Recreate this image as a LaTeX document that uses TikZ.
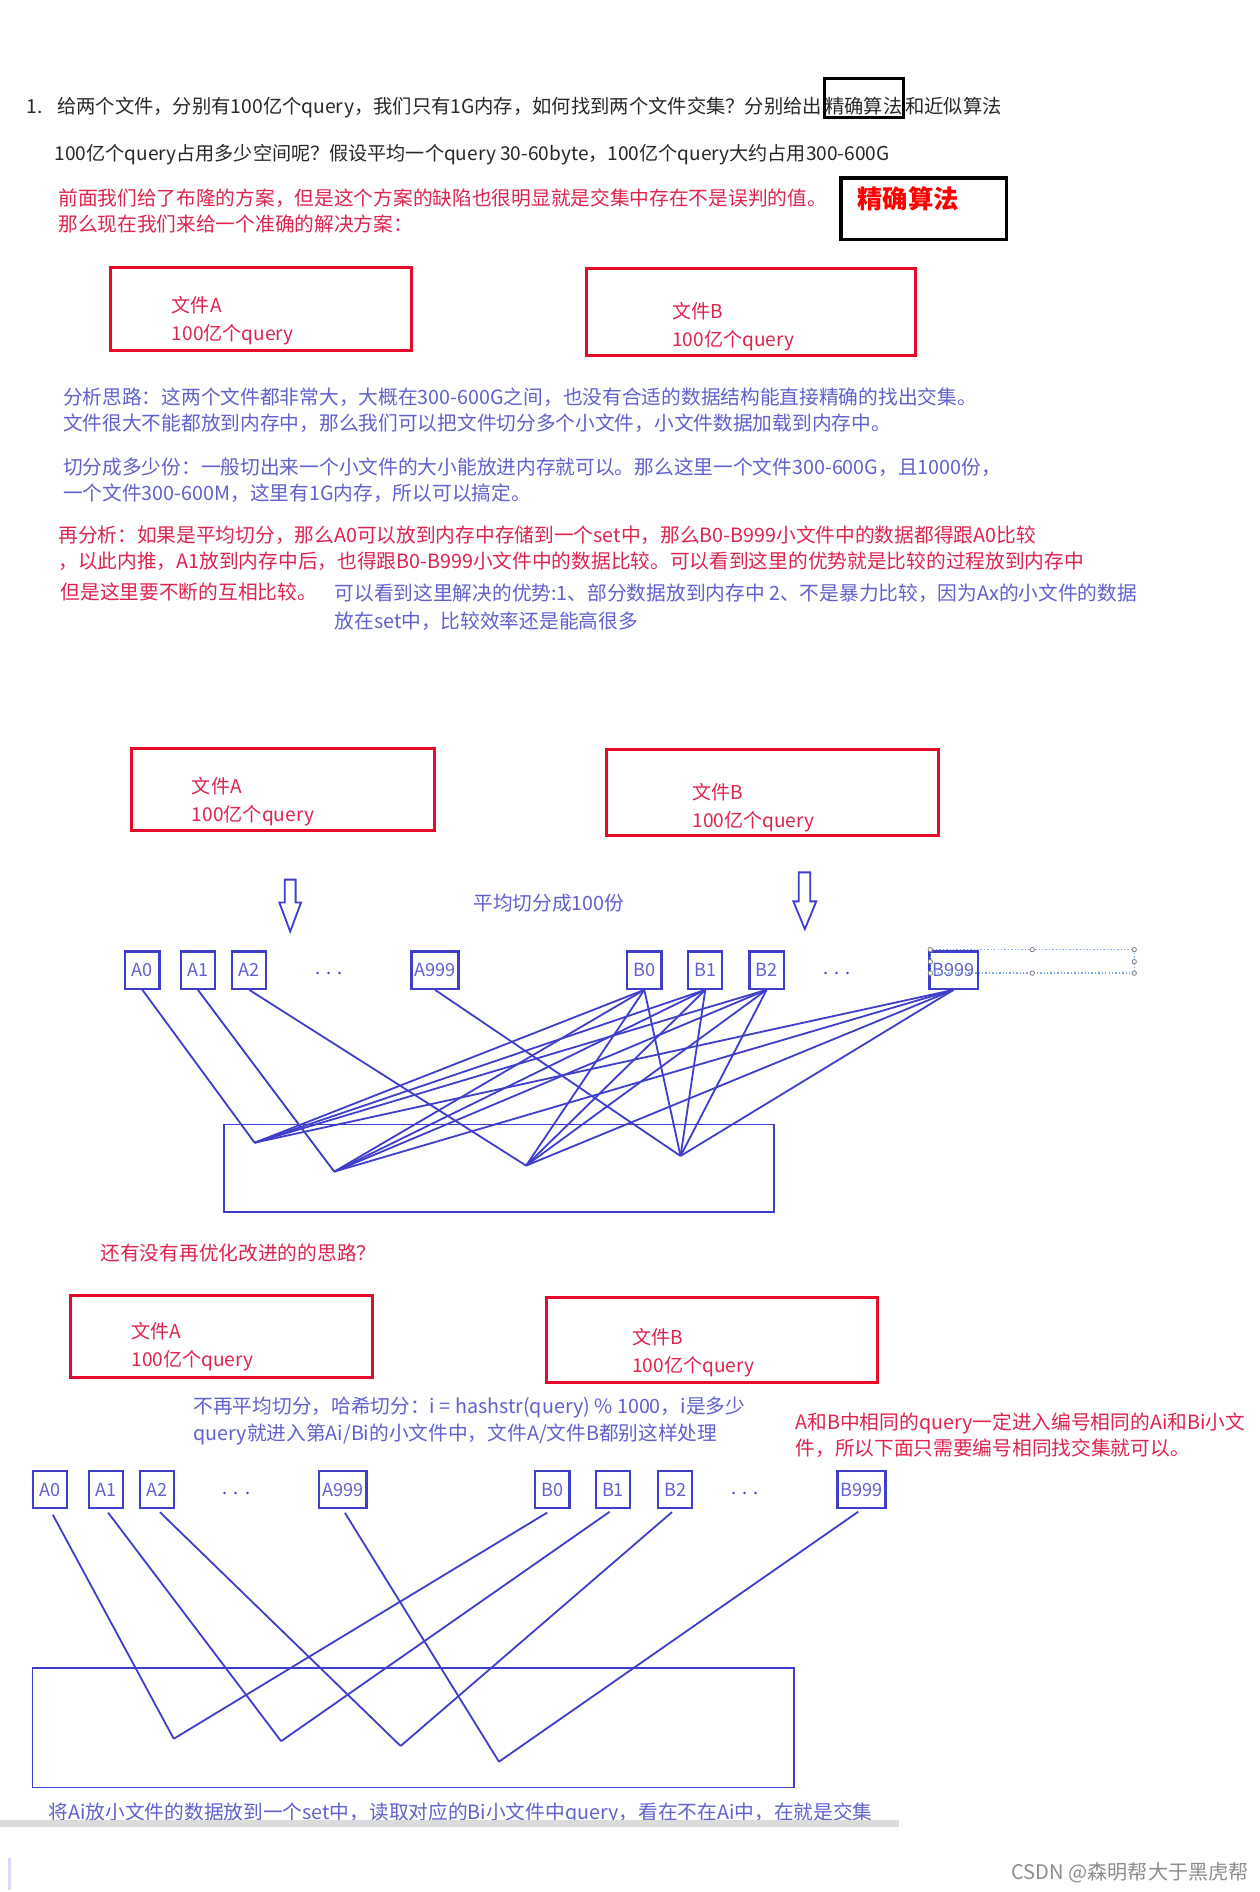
\documentclass[tikz,border=0pt]{standalone}
\usepackage{fontspec}
\setmainfont{Noto Sans CJK SC}
\usetikzlibrary{positioning}

\definecolor{boxred}{RGB}{228,10,40}
\definecolor{textred}{RGB}{222,36,76}
\definecolor{textblue}{RGB}{96,96,206}
\definecolor{lineblue}{RGB}{62,62,202}
\definecolor{textdark}{RGB}{38,38,38}
\definecolor{selblue}{RGB}{120,170,225}

\begin{document}
\begin{tikzpicture}[
    x=0.6pt, y=-0.6pt,
    txt/.style={anchor=base west, inner sep=0pt, font=\fontsize{9.8}{12}\selectfont},
    dark/.style={txt, text=textdark},
    rtxt/.style={txt, text=textred},
    btxt/.style={txt, text=textblue},
    filebox/.style={draw=boxred, line width=1.5pt},
    filetxt/.style={anchor=west, inner sep=0pt, align=left, text=textred,
                    font=\fontsize{9.5}{14}\selectfont},
    part/.style={draw=lineblue, line width=1.1pt, text=textblue, minimum width=17pt,
                 minimum height=18.5pt, inner xsep=1.5pt, font=\fontsize{9}{10}\selectfont},
    dots/.style={inner sep=0pt, text=lineblue, font=\fontsize{9}{10}\selectfont},
    pool/.style={draw=lineblue, line width=0.8pt},
    link/.style={draw=lineblue, line width=0.9pt},
    hollow/.style={draw=lineblue, line width=0.9pt, fill=white},
]
\useasboundingbox (0,0) rectangle (1044,1568);

% question and first notes
\node[dark, font=\fontsize{9.6}{12}\selectfont] (q1) at (22,94) {1.\hspace{7pt}给两个文件，分别有100亿个query，我们只有1G内存，如何找到两个文件交集？分别给出};
\node[dark, font=\fontsize{9.6}{12}\selectfont, draw=black, line width=1.5pt, text height=17.4pt, text depth=1.8pt, inner xsep=0.5pt] (q1b) at (q1.base east) {精确算法};
\node[dark, font=\fontsize{9.6}{12}\selectfont] (q1c) at (q1b.base east) {和近似算法};
\node[dark, font=\fontsize{9.5}{12}\selectfont] (q2) at (45,133) {100亿个query占用多少空间呢？假设平均一个query 30-60byte，100亿个query大约占用300-600G};
\node[rtxt] (r1) at (48,170) {前面我们给了布隆的方案，但是这个方案的缺陷也很明显就是交集中存在不是误判的值。};
\node[rtxt] (r2) at (48,192) {那么现在我们来给一个准确的解决方案：};
\node[draw=black, line width=1.8pt, anchor=north west, align=left, text width=66pt,
      inner xsep=8.1pt, inner ysep=0pt, text height=15pt, text depth=15.6pt,
      text=red, font=\fontsize{12.6}{14}\selectfont\bfseries] (key) at (695.5,146) {精确算法};

\node[filebox, minimum width=149.8pt, minimum height=41.6pt] (fa1) at (216.2,256) {};
\node[filetxt] (fa1t) at ([xshift=31.2pt, yshift=-5.9pt]fa1.west) {文件A\\100亿个query};
\node[filebox, minimum width=163.8pt, minimum height=43pt] (fb1) at (622.5,258.7) {};
\node[filetxt] (fb1t) at ([xshift=43.2pt, yshift=-7.2pt]fb1.west) {文件B\\100亿个query};

\node[btxt] (s1) at (52,335) {分析思路：这两个文件都非常大，大概在300-600G之间，也没有合适的数据结构能直接精确的找出交集。};
\node[btxt] (s2) at (52,357) {文件很大不能都放到内存中，那么我们可以把文件切分多个小文件，小文件数据加载到内存中。};
\node[btxt] (s3) at (52,393) {切分成多少份：一般切出来一个小文件的大小能放进内存就可以。那么这里一个文件300-600G，且1000份，};
\node[btxt] (s4) at (52,415) {一个文件300-600M，这里有1G内存，所以可以搞定。};
\node[rtxt] (r3) at (48,450) {再分析：如果是平均切分，那么A0可以放到内存中存储到一个set中，那么B0-B999小文件中的数据都得跟A0比较};
\node[rtxt] (r4) at (48,471) {，以此内推，A1放到内存中后，也得跟B0-B999小文件中的数据比较。可以看到这里的优势就是比较的过程放到内存中};
\node[rtxt] (r5) at (50,497) {但是这里要不断的互相比较。};
\node[btxt] (s5) at (277,498) {可以看到这里解决的优势:1、部分数据放到内存中 2、不是暴力比较，因为Ax的小文件的数据};
\node[btxt] (s6) at (277,521) {放在set中，比较效率还是能高很多};

% even split
\node[filebox, minimum width=150.6pt, minimum height=40.8pt] (fa2) at (234.2,654) {};
\node[filetxt] (fa2t) at ([xshift=30.8pt, yshift=-6.1pt]fa2.west) {文件A\\100亿个query};
\node[filebox, minimum width=165pt, minimum height=43pt] (fb2) at (640.5,656.9) {};
\node[filetxt] (fb2t) at ([xshift=43.1pt, yshift=-7.3pt]fb2.west) {文件B\\100亿个query};
\draw[hollow] (236,729) -- (245,729) -- (245,748) -- (249.5,748) -- (240.5,772) -- (231.5,748) -- (236,748) -- cycle;
\draw[hollow] (662,723) -- (671.5,723) -- (671.5,747) -- (676.5,747) -- (667,770) -- (657.5,747) -- (662,747) -- cycle;
\node[btxt] (split) at (392,754.5) {平均切分成100份};

\node[part] (a0) at (118,804) {A0};
\node[part] (a1) at (164,804) {A1};
\node[part] (a2) at (206.5,804) {A2};
\node[dots] (adots) at (272.4,807) {.\,\,.\,\,.};
\node[part] (a999) at (360.5,804) {A999};
\node[part] (b0) at (534,804) {B0};
\node[part] (b1) at (584.5,804) {B1};
\node[part] (b2) at (635.3,804) {B2};
\node[dots] (bdots) at (694,807) {.\,\,.\,\,.};
\node[part] (b999) at (790.3,804) {B999};
\draw[selblue, densely dotted, line width=0.7pt] (771,787) rectangle (940,806.5);
\foreach \p in {(771,787),(855.5,787),(940,787),(940,797),(940,806.5),(855.5,806.5),(771,806.5),(771,797)}
    \draw[gray, line width=0.4pt, fill=white] \p circle (1.1pt);

\draw[pool] (185.5,932) rectangle (641.3,1004.5);
\coordinate (c0) at (211,947);
\coordinate (c1) at (277,971);
\coordinate (c2) at (436,966);
\coordinate (c3) at (564,958);
\draw[link] (a0.south) -- (c0);
\draw[link] (a1.south) -- (c1);
\draw[link] (a2.south) -- (c2);
\draw[link] (a999.south) -- (c3);
% every Bj is compared with every Ai
\foreach \b in {b0,b1,b2,b999}
  \foreach \c in {c0,c1,c2,c3}
    \draw[link] (\b.south) -- (\c);

% hash split
\node[rtxt] (r6) at (83,1044.5) {还有没有再优化改进的的思路？};
\node[filebox, minimum width=149.9pt, minimum height=40.8pt] (fa3) at (183.5,1108) {};
\node[filetxt] (fa3t) at ([xshift=30.8pt, yshift=-5pt]fa3.west) {文件A\\100亿个query};
\node[filebox, minimum width=164.6pt, minimum height=42.6pt] (fb3) at (590.2,1110.5) {};
\node[filetxt] (fb3t) at ([xshift=43.1pt, yshift=-6.5pt]fb3.west) {文件B\\100亿个query};
\node[btxt] (s7) at (160,1171.5) {不再平均切分，哈希切分：i = hashstr(query) \% 1000，i是多少};
\node[btxt] (s8) at (160,1193.6) {query就进入第Ai/Bi的小文件中，文件A/文件B都别这样处理};
\node[rtxt] (r7) at (659,1184.8) {A和B中相同的query一定进入编号相同的Ai和Bi小文};
\node[rtxt] (r8) at (659,1206) {件，所以下面只需要编号相同找交集就可以。};

\node[part] (ha0) at (41.4,1234.6) {A0};
\node[part] (ha1) at (87.6,1234.6) {A1};
\node[part] (ha2) at (130.2,1234.6) {A2};
\node[dots] (hadots) at (196,1237.5) {.\,\,.\,\,.};
\node[part] (ha999) at (284.1,1234.6) {A999};
\node[part] (hb0) at (457.8,1234.6) {B0};
\node[part] (hb1) at (508,1234.6) {B1};
\node[part] (hb2) at (559.5,1234.6) {B2};
\node[dots] (hbdots) at (617.3,1237.5) {.\,\,.\,\,.};
\node[part] (hb999) at (714,1234.6) {B999};

\draw[pool] (27,1382.5) rectangle (658,1481.5);
\coordinate (d0) at (144,1441);
\coordinate (d1) at (233,1443);
\coordinate (d2) at (332,1447);
\coordinate (d3) at (413.5,1460);
\draw[link, shorten <=3pt] (ha0.south) -- (d0);
\draw[link, shorten <=3pt] (hb0.south) -- (d0);
\draw[link, shorten <=2pt] (ha1.south) -- (d1);
\draw[link, shorten <=2pt] (hb1.south) -- (d1);
\draw[link, shorten <=2pt] (ha2.south) -- (d2);
\draw[link, shorten <=2pt] (hb2.south) -- (d2);
\draw[link, shorten <=2pt] (ha999.south) -- (d3);
\draw[link, shorten <=2pt] (hb999.south) -- (d3);

\node[btxt] (s9) at (40,1508) {将Ai放小文件的数据放到一个set中，读取对应的Bi小文件中query，看在不在Ai中，在就是交集};
\fill[black!14] (0,1508.6) rectangle (745,1514.4);
\draw[black!12!blue!15, line width=1.2pt] (8,1540) -- (8,1566);
\node[txt, text=black!45, font=\fontsize{10}{12}\selectfont] (mark) at (838,1558) {CSDN @森明帮大于黑虎帮};
\end{tikzpicture}
\end{document}
